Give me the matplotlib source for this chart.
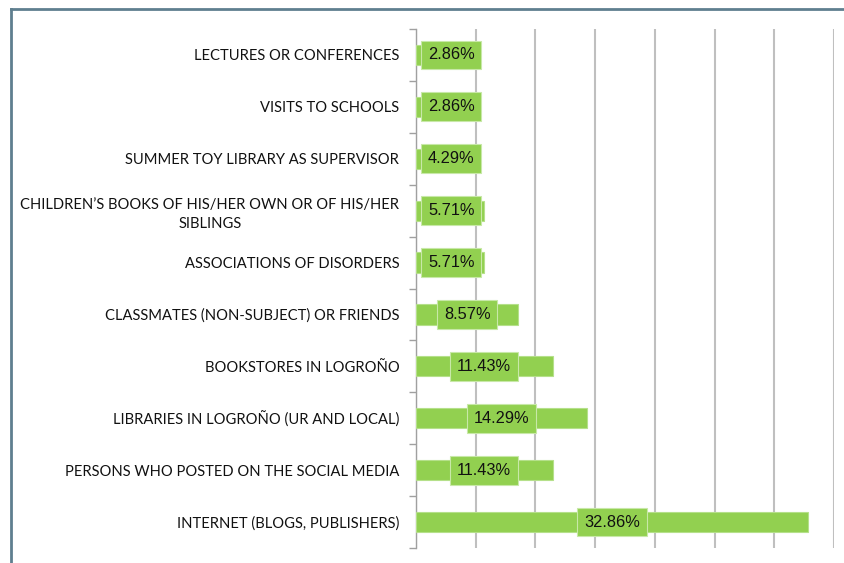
import matplotlib
matplotlib.use("Agg")
import matplotlib.pyplot as plt
from matplotlib.lines import Line2D

categories = [
    "LECTURES OR CONFERENCES",
    "VISITS TO SCHOOLS",
    "SUMMER TOY LIBRARY AS SUPERVISOR",
    "CHILDREN\u2019S BOOKS OF HIS/HER OWN OR OF HIS/HER\nSIBLINGS",
    "ASSOCIATIONS OF DISORDERS",
    "CLASSMATES (NON-SUBJECT) OR FRIENDS",
    "BOOKSTORES IN LOGRO\u00d1O",
    "LIBRARIES IN LOGRO\u00d1O (UR AND LOCAL)",
    "PERSONS WHO POSTED ON THE SOCIAL MEDIA",
    "INTERNET (BLOGS, PUBLISHERS)",
]
values = [2.86, 2.86, 4.29, 5.71, 5.71, 8.57, 11.43, 14.29, 11.43, 32.86]

GREEN = "#92D050"

fig = plt.figure(figsize=(8.44, 5.63), dpi=100)
ax = fig.add_axes([416 / 844, 1 - 548 / 563, 418 / 844, 519 / 563])

y = list(range(len(categories)))
ax.barh(y, values, height=0.39, color=GREEN, edgecolor="#B5E08A",
        linewidth=0.8, zorder=3)

ax.set_xlim(0, 35)
ax.set_ylim(len(categories) - 0.5, -0.5)
ax.set_xticks(range(0, 36, 5))
ax.tick_params(axis="x", length=0, labelbottom=False)
ax.xaxis.grid(True, color="#BFBFBF", linewidth=1.5, zorder=0)

ax.set_yticks(y)
ax.set_yticklabels(categories, fontsize=10.6, family=["Lato", "DejaVu Sans"],
                   color="#111111")
for lab in ax.get_yticklabels():
    lab.set_multialignment("center")
    lab.set_linespacing(1.45)
ax.set_yticks([i - 0.5 for i in range(len(categories) + 1)], minor=True)
ax.tick_params(axis="y", which="major", length=0, pad=12)
ax.tick_params(axis="y", which="minor", length=5, color="#A0A0A0", width=1)

for s in ("top", "right", "bottom"):
    ax.spines[s].set_visible(False)
ax.spines["left"].set_color("#A0A0A0")
ax.spines["left"].set_linewidth(1)

# value labels, centered on bar but kept clear of the axis
for yi, v in zip(y, values):
    xpos = max(v / 2, 2.95)
    ax.text(xpos, yi, f"{v:.2f}%", ha="center", va="center", fontsize=11.8,
            family=["Liberation Sans", "DejaVu Sans"], color="#111111",
            zorder=4,
            bbox=dict(boxstyle="square,pad=0.42", fc=GREEN, ec="#C8E8A8",
                      lw=0.8))

# outer frame (left and top)
fx = 11 / 844
fy = 1 - 9 / 563
fig.add_artist(Line2D([fx, fx], [0, fy], color="#5F7F8F", linewidth=2,
                      transform=fig.transFigure))
fig.add_artist(Line2D([fx, 1], [fy, fy], color="#5F7F8F", linewidth=2,
                      transform=fig.transFigure))

fig.savefig("out.png", dpi=100)
